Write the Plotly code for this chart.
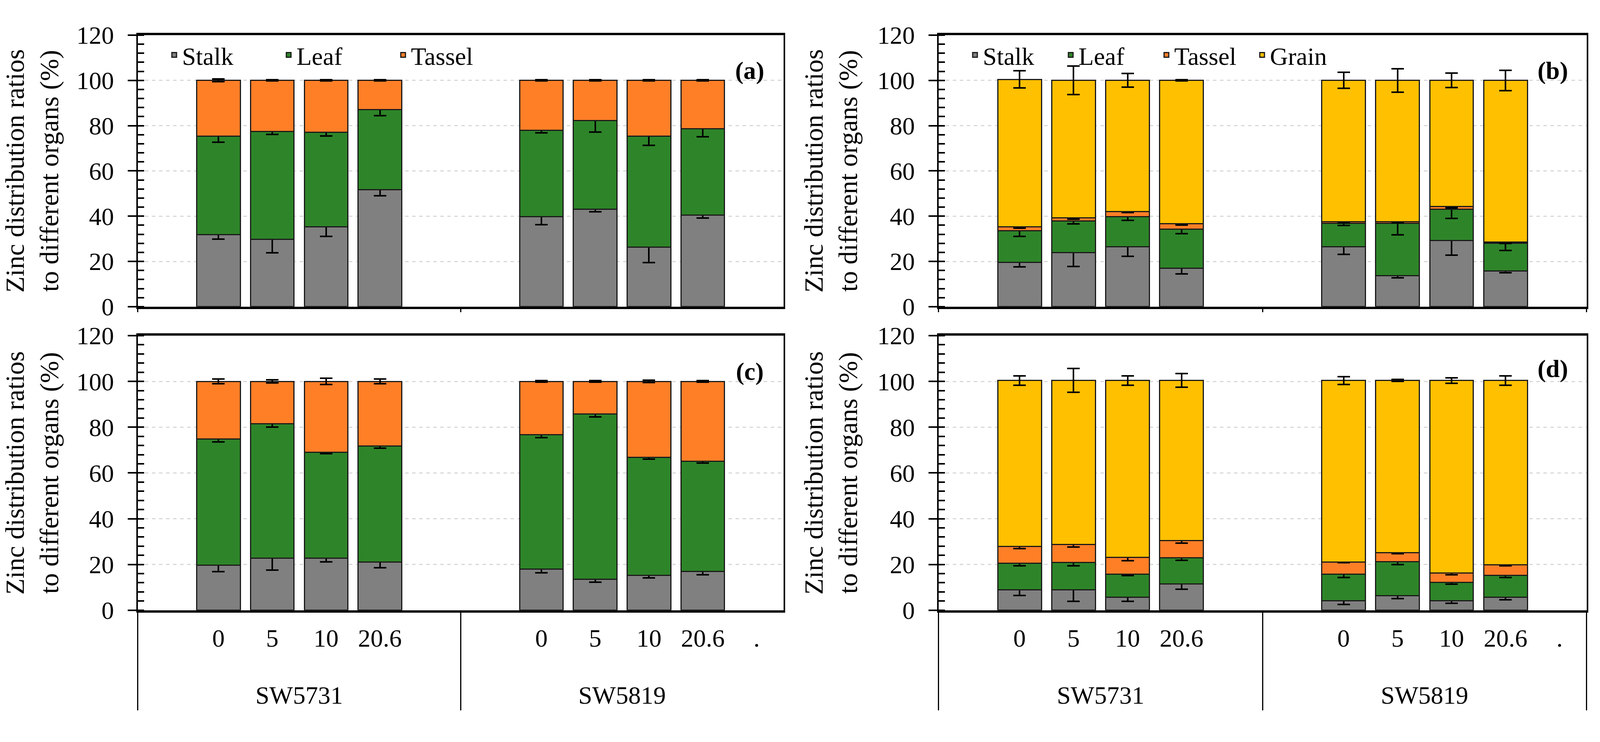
import plotly.graph_objects as go

# ---------------- data ----------------
groups = ["<br>SW5731"] * 6 + ["<br>SW5819"] * 6
subs = ["\u00a0", "0", "5", "10", "20.6", "\u00a0\u00a0", "\u00a0", "0", "5", "10", "20.6", "."]
bar_slots = [1, 2, 3, 4, 7, 8, 9, 10]   # category slots that carry bars

# panel (a)
a_stalk = [31.8, 29.8, 35.2, 51.7, 39.7, 43.1, 26.3, 40.4]
a_leaf = [43.6, 47.6, 41.8, 35.3, 38.3, 39.2, 49.0, 38.2]
a_tassel = [24.6, 22.6, 23.0, 13.0, 22.0, 17.7, 24.7, 21.4]
a_stalk_err = [2.0, 6.0, 4.2, 2.7, 3.4, 1.2, 6.8, 1.2]
a_leaf_err = [2.7, 1.3, 1.5, 2.6, 1.2, 5.2, 4.0, 3.6]
a_tassel_err = [0.6, 0.3, 0.3, 0.3, 0.3, 0.3, 0.3, 0.3]

# panel (b)
b_stalk = [19.5, 23.8, 26.5, 17.0, 26.5, 13.7, 29.3, 15.8]
b_leaf = [14.0, 14.0, 13.3, 17.2, 10.3, 23.1, 13.7, 12.3]
b_tassel = [1.8, 1.5, 2.3, 2.4, 0.7, 0.7, 1.3, 0.5]
b_grain = [65.1, 60.7, 57.9, 63.4, 62.5, 62.5, 55.7, 71.4]
b_stalk_err = [2.0, 6.0, 4.3, 2.6, 3.4, 1.0, 6.6, 0.8]
b_leaf_err = [2.4, 1.3, 1.7, 2.0, 0.9, 5.0, 4.0, 3.2]
b_tassel_err = [0.6, 0.6, 0.6, 0.6, 0.4, 0.4, 0.6, 0.6]
b_grain_err = [3.8, 6.3, 3.0, 0.3, 3.5, 5.2, 3.2, 4.5]

# panel (c)
c_stalk = [19.6, 22.8, 22.7, 21.1, 18.0, 13.6, 15.3, 16.9]
c_leaf = [55.2, 58.7, 46.3, 50.6, 58.8, 72.2, 51.5, 48.2]
c_tassel = [25.2, 18.5, 31.0, 28.3, 23.2, 14.2, 33.2, 34.9]
c_stalk_err = [2.7, 5.3, 1.6, 2.5, 1.7, 1.4, 1.2, 1.4]
c_leaf_err = [1.2, 1.4, 0.5, 0.8, 1.4, 1.3, 0.8, 0.8]
c_tassel_err = [1.0, 0.7, 1.4, 1.0, 0.3, 0.3, 0.5, 0.3]

# panel (d)
d_stalk = [9.0, 9.0, 5.7, 11.5, 4.2, 6.4, 4.2, 5.7]
d_leaf = [11.5, 11.9, 10.0, 11.5, 11.5, 14.9, 8.0, 9.5]
d_tassel = [7.3, 7.9, 7.4, 7.4, 5.4, 3.8, 4.1, 4.7]
d_grain = [72.6, 71.6, 77.3, 70.0, 79.3, 75.3, 84.1, 80.5]
d_stalk_err = [2.6, 5.2, 1.9, 2.4, 1.7, 1.3, 1.1, 1.1]
d_leaf_err = [1.1, 1.4, 0.5, 1.1, 1.4, 1.3, 0.8, 0.9]
d_tassel_err = [0.9, 1.1, 1.4, 1.1, 0.3, 0.3, 0.8, 0.4]
d_grain_err = [2.1, 5.2, 2.1, 3.0, 1.7, 0.4, 1.2, 2.1]

colors = {"Stalk": "#808080", "Leaf": "#2e8529", "Tassel": "#ff7f27", "Grain": "#ffc000"}
y_ticks = [0, 20, 40, 60, 80, 100, 120]
panel_labels = ["(a)", "(b)", "(c)", "(d)"]

# ---------------- helpers ----------------
FONT = "Liberation Serif"


def expand(vals):
    out = [None] * len(subs)
    for slot, v in zip(bar_slots, vals):
        out[slot] = v
    return out


panels = [
    ("x", "y", "legend", [("Stalk", a_stalk, a_stalk_err), ("Leaf", a_leaf, a_leaf_err),
                          ("Tassel", a_tassel, a_tassel_err)]),
    ("x2", "y2", "legend2", [("Stalk", b_stalk, b_stalk_err), ("Leaf", b_leaf, b_leaf_err),
                             ("Tassel", b_tassel, b_tassel_err), ("Grain", b_grain, b_grain_err)]),
    ("x3", "y3", None, [("Stalk", c_stalk, c_stalk_err), ("Leaf", c_leaf, c_leaf_err),
                        ("Tassel", c_tassel, c_tassel_err)]),
    ("x4", "y4", None, [("Stalk", d_stalk, d_stalk_err), ("Leaf", d_leaf, d_leaf_err),
                        ("Tassel", d_tassel, d_tassel_err), ("Grain", d_grain, d_grain_err)]),
]

fig = go.Figure()
for xa, ya, leg, series in panels:
    for name, vals, errs in series:
        fig.add_trace(go.Bar(
            x=[groups, subs], y=expand(vals), name=name,
            xaxis=xa, yaxis=ya,
            marker=dict(color=colors[name], line=dict(color="#1a1a1a", width=3)),
            error_y=dict(type="data", array=expand(errs), visible=True,
                         color="black", thickness=4, width=16),
            showlegend=leg is not None, legend=leg if leg else "legend",
            legendgroup=(leg or "") + name,
        ))

left = [0.0861, 0.4897]
right = [0.5866, 0.9916]
top = [0.5898, 0.970]
bottom = [0.1648, 0.5492]


def xaxis(domain, anchor, show_labels):
    d = dict(domain=domain, anchor=anchor, type="multicategory",
             showline=True, linewidth=6, linecolor="black", mirror=True,
             showgrid=False, zeroline=False, ticks="",
             showdividers=True, dividercolor="black", dividerwidth=3)
    if show_labels:
        d.update(tickfont=dict(family=FONT, size=64, color="black"), ticklabelstandoff=10)
    else:
        d.update(tickfont=dict(family=FONT, size=1, color="rgba(0,0,0,0)"), ticklabelstandoff=22)
    return d


def yaxis(domain, anchor):
    return dict(domain=domain, anchor=anchor, range=[0, 120], tickvals=y_ticks,
                showline=True, linewidth=4, linecolor="black", mirror=True,
                ticks="outside", ticklen=22, tickwidth=4, tickcolor="black",
                minor=dict(dtick=4, ticks="inside", ticklen=16, tickwidth=4,
                           tickcolor="black", showgrid=False),
                showgrid=True, gridcolor="#d9d9d9", griddash="dash", gridwidth=3,
                zeroline=False, ticklabelstandoff=22,
                tickfont=dict(family=FONT, size=64, color="black"),
                title=dict(text="Zinc distribution ratios<br>to different organs (%)",
                           font=dict(family=FONT, size=68, color="black"), standoff=30))


fig.update_layout(
    autosize=True,
    margin=dict(l=0, r=0, t=0, b=0),
    paper_bgcolor="white", plot_bgcolor="white",
    barmode="stack", bargap=0.19,
    font=dict(family=FONT, size=64, color="black"),
    xaxis=xaxis(left, "y", False), yaxis=yaxis(top, "x"),
    xaxis2=xaxis(right, "y2", False), yaxis2=yaxis(top, "x2"),
    xaxis3=xaxis(left, "y3", True), yaxis3=yaxis(bottom, "x3"),
    xaxis4=xaxis(right, "y4", True), yaxis4=yaxis(bottom, "x4"),
    legend=dict(orientation="h", x=0.104, y=0.942, xanchor="left", yanchor="middle",
                traceorder="normal", entrywidth=248, bgcolor="rgba(0,0,0,0)",
                font=dict(family=FONT, size=64)),
    legend2=dict(orientation="h", x=0.6045, y=0.942, xanchor="left", yanchor="middle",
                 traceorder="normal", entrywidth=200, bgcolor="rgba(0,0,0,0)",
                 font=dict(family=FONT, size=64)),
    showlegend=True,
)

for lab, (xr, yr, yy) in zip(panel_labels, [("x", "y", 0.87), ("x2", "y2", 0.87),
                                            ("x3", "y3", 0.87), ("x4", "y4", 0.88)]):
    fig.add_annotation(text="<b>%s</b>" % lab, xref=xr + " domain", yref=yr + " domain",
                       x=0.948, y=yy, xanchor="center", yanchor="middle", showarrow=False,
                       font=dict(family=FONT, size=64, color="black"))

post = ("document.documentElement.style.margin='0';document.body.style.margin='0';"
        "document.body.style.overflow='hidden';"
        "var gd=document.getElementById('{plot_id}');gd.style.width='100vw';gd.style.height='100vh';"
        "Plotly.Plots.resize(gd);")
fig.write_html("out.html", default_width="100vw", default_height="100vh",
               config={"responsive": True, "displayModeBar": False}, post_script=post)
